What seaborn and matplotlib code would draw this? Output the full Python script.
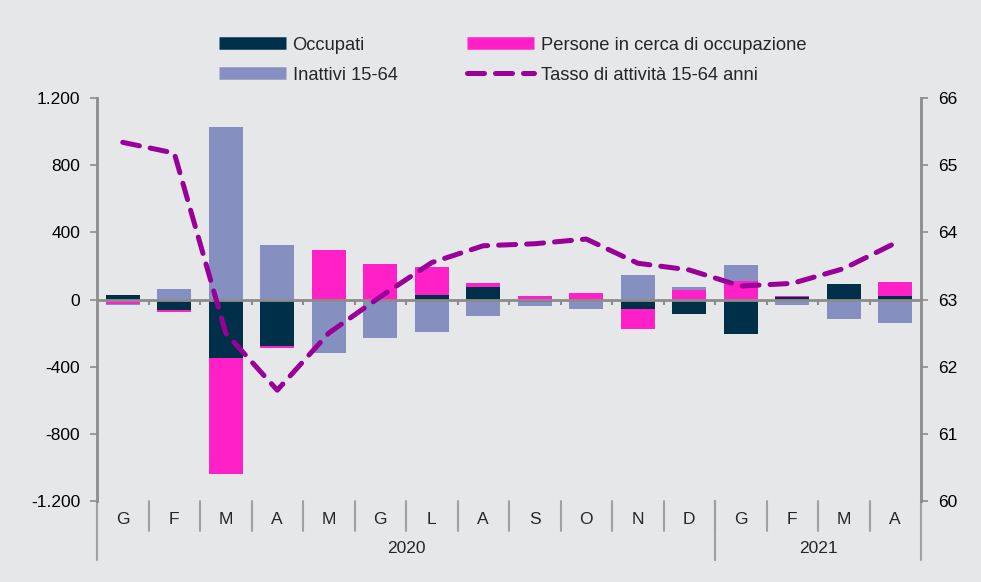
import matplotlib
matplotlib.use("Agg")
import matplotlib.pyplot as plt
import matplotlib.transforms as mtransforms
from matplotlib.lines import Line2D
from matplotlib.ticker import FuncFormatter
import numpy as np
import seaborn as sns

# data (variazioni congiunturali, migliaia)
mesi = ["G", "F", "M", "A", "M", "G", "L", "A", "S", "O", "N", "D", "G", "F", "M", "A"]
anni = ["2020", "2021"]
mesi_per_anno = [12, 4]
occupati = [25, -65, -350, -277, 0, 0, 24, 74, -15, -8, -54, -86, -205, 12, 90, 18]
persone_cerca = [-25, -8, -690, -14, 292, 212, 167, 22, 22, 36, -120, 54, 109, 8, 0, 89]
inattivi = [-10, 60, 1030, 322, -316, -228, -195, -101, -25, -50, 143, 20, 94, -30, -115, -139]
tasso = [65.34, 65.18, 62.50, 61.65, 62.50, 63.04, 63.55, 63.80, 63.83, 63.90,
         63.54, 63.44, 63.20, 63.24, 63.46, 63.84]

bg = "#E6E7E9"
c_occ = "#003049"
c_cerca = "#FF20C8"
c_inatt = "#8590C0"
c_tasso = "#990099"
grigio = "#8C8C8C"

sns.set_theme(style="white")
plt.rcParams["font.family"] = ["Liberation Sans", "DejaVu Sans"]

fig = plt.figure(figsize=(9.81, 5.82), dpi=100, facecolor=bg)
ax = fig.add_axes([97 / 981, 1 - 501 / 582, (921 - 97) / 981, (501 - 98) / 582])
ax.set_facecolor(bg)

x = np.arange(len(mesi))
serie = [(occupati, c_occ), (persone_cerca, c_cerca), (inattivi, c_inatt)]
pos_base = np.zeros(len(mesi))
neg_base = np.zeros(len(mesi))
for valori, colore in serie:
    v = np.array(valori, dtype=float)
    base = np.where(v >= 0, pos_base, neg_base)
    ax.bar(x, v, bottom=base, width=0.66, color=colore, linewidth=0, zorder=2)
    pos_base += np.where(v >= 0, v, 0)
    neg_base += np.where(v < 0, v, 0)

ax.set_xlim(-0.5, len(mesi) - 0.5)
ax.set_ylim(-1200, 1200)
ax.set_yticks([-1200, -800, -400, 0, 400, 800, 1200])
ax.yaxis.set_major_formatter(FuncFormatter(lambda v, p: f"{v:,.0f}".replace(",", ".")))
ax.set_xticks([])
ax.tick_params(axis="y", direction="out", length=5, width=1.2, color=grigio,
               labelsize=12.5, pad=7, left=True, labelcolor="black")
for s in ["top", "right", "bottom"]:
    ax.spines[s].set_visible(False)
ax.spines["left"].set_color(grigio)
ax.spines["left"].set_linewidth(2)

# zero line with small ticks between months
ax.axhline(0, color=grigio, lw=2, zorder=3)
ax.vlines(x[:-1] + 0.5, -30, 0, color=grigio, lw=1.5, zorder=3)

# category axis below the plot
trans = mtransforms.blended_transform_factory(ax.transData, ax.transAxes)
for i, m in enumerate(mesi):
    ax.text(i, -0.047, m, transform=trans, ha="center", va="center", fontsize=12.5)
for i in range(1, len(mesi)):
    ax.plot([i - 0.5, i - 0.5], [0, -0.075], transform=trans, color="#A0A0A0",
            lw=1.5, clip_on=False)
start = 0
for anno, n in zip(anni, mesi_per_anno):
    ax.text(start + (n - 1) / 2, -0.117, anno, transform=trans, ha="center",
            va="center", fontsize=12.5)
    for b in (start - 0.5, start + n - 0.5):
        ax.plot([b, b], [0, -0.146], transform=trans, color="#A0A0A0", lw=1.5,
                clip_on=False)
    start += n

# rate on the secondary axis
ax2 = ax.twinx()
sns.lineplot(x=x, y=tasso, ax=ax2, color=c_tasso, lw=3.6,
             linestyle=(0, (3.4, 2.2)), dash_capstyle="round", legend=False, zorder=4)
ax2.set_ylim(60, 66)
ax2.set_yticks(range(60, 67))
ax2.tick_params(axis="y", direction="out", length=5, width=1.2, color=grigio,
                labelsize=12.5, pad=7, right=True, labelcolor="black")
for s in ["top", "left", "bottom"]:
    ax2.spines[s].set_visible(False)
ax2.spines["right"].set_color(grigio)
ax2.spines["right"].set_linewidth(2)
ax2.set_ylabel("")

handles = [
    Line2D([], [], color=c_occ, lw=9, solid_capstyle="butt"),
    Line2D([], [], color=c_inatt, lw=9, solid_capstyle="butt"),
    Line2D([], [], color=c_cerca, lw=9, solid_capstyle="butt"),
    Line2D([], [], color=c_tasso, lw=3.6, linestyle=(0, (3.4, 2.2)), dash_capstyle="round"),
]
labels = ["Occupati", "Inattivi 15-64", "Persone in cerca di occupazione",
          "Tasso di attività 15-64 anni"]
fig.legend(handles, labels, ncol=2, loc="upper left", bbox_to_anchor=(202 / 981, 1 - 20 / 582),
           frameon=False, fontsize=13.2, handlelength=3.66, handletextpad=0.38,
           columnspacing=3.77, labelspacing=0.72)

fig.savefig("out.png", dpi=100, facecolor=bg)
